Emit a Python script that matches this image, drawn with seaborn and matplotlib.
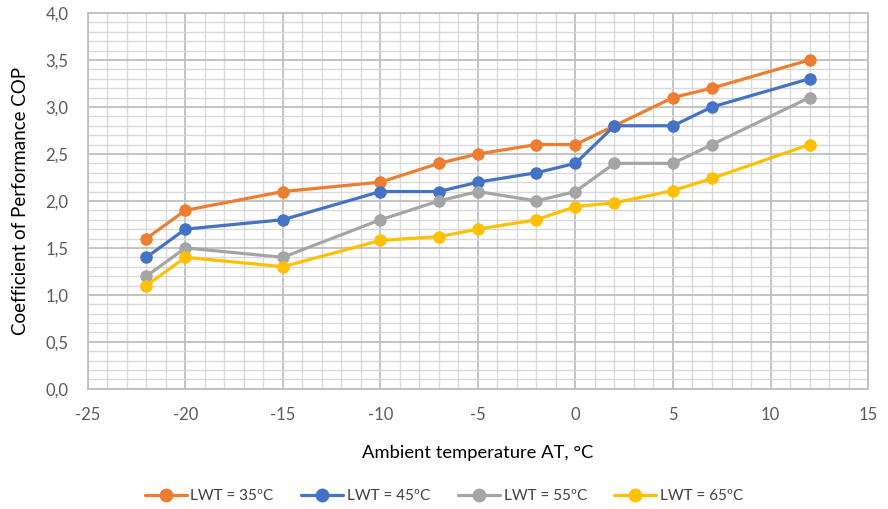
import matplotlib
matplotlib.use('Agg')
import matplotlib.pyplot as plt
from matplotlib.ticker import MultipleLocator, FuncFormatter
import seaborn as sns
import pandas as pd

# ambient temperature, °C
temps = [-22, -20, -15, -10, -7, -5, -2, 0, 2, 5, 7, 12]
# COP for each leaving water temperature
cop_35 = [1.6, 1.9, 2.1, 2.2, 2.4, 2.5, 2.6, 2.6, 2.8, 3.1, 3.2, 3.5]
cop_45 = [1.4, 1.7, 1.8, 2.1, 2.1, 2.2, 2.3, 2.4, 2.8, 2.8, 3.0, 3.3]
cop_55 = [1.2, 1.5, 1.4, 1.8, 2.0, 2.1, 2.0, 2.1, 2.4, 2.4, 2.6, 3.1]
cop_65 = [1.1, 1.4, 1.3, 1.58, 1.62, 1.7, 1.8, 1.94, 1.98, 2.11, 2.24, 2.6]
series_names = ['LWT = 35ºC', 'LWT = 45ºC', 'LWT = 55ºC', 'LWT = 65ºC']
colors = ['#ED7D31', '#4472C4', '#A5A5A5', '#FFC000']

frames = []
for name, vals in zip(series_names, [cop_35, cop_45, cop_55, cop_65]):
    frames.append(pd.DataFrame({'AT': temps, 'COP': vals, 'series': name}))
df = pd.concat(frames, ignore_index=True)

sns.set_style('white')
plt.rcParams['font.family'] = ['Lato', 'DejaVu Sans']
plt.rcParams['axes.unicode_minus'] = False

fig = plt.figure(figsize=(8.88, 5.09), dpi=100)
ax = fig.add_axes([0.099, 0.236, 0.8785, 0.7385])

sns.lineplot(data=df, x='AT', y='COP', hue='series', palette=colors,
             marker='o', markersize=9, markeredgewidth=0, linewidth=2.3,
             ax=ax, legend=True)

ax.set_xlim(-25, 15)
ax.set_ylim(0, 4)
ax.xaxis.set_major_locator(MultipleLocator(5))
ax.xaxis.set_minor_locator(MultipleLocator(1))
ax.yaxis.set_major_locator(MultipleLocator(0.5))
ax.yaxis.set_minor_locator(MultipleLocator(0.1))
ax.yaxis.set_major_formatter(FuncFormatter(lambda v, p: f'{v:.1f}'.replace('.', ',')))
ax.grid(which='major', color='#BFBFBF', linewidth=1.3)
ax.grid(which='minor', color='#D9D9D9', linewidth=1.0)
ax.set_axisbelow(True)
for s in ax.spines.values():
    s.set_color('#BFBFBF')
    s.set_linewidth(1.3)
ax.tick_params(which='both', length=0, colors='#595959', labelsize=12)
ax.tick_params(axis='y', pad=14)
ax.tick_params(axis='x', pad=13)

ax.set_xlabel('Ambient temperature AT, °C', fontsize=13.2, color='#000000', labelpad=16)
ax.set_ylabel('Coefficient of Performance COP', fontsize=13.5, color='#000000', labelpad=12)

handles, labels = ax.get_legend_handles_labels()
for h in handles:
    h.set_markersize(10)
ax.legend(handles, labels, loc='center', bbox_to_anchor=(0.5, 1 - 496 / 509),
          bbox_transform=fig.transFigure, ncol=4, frameon=False, fontsize=11,
          handlelength=2.75, columnspacing=1.8, handletextpad=0.25, labelcolor='#404040')

fig.savefig('out.png', dpi=100)
